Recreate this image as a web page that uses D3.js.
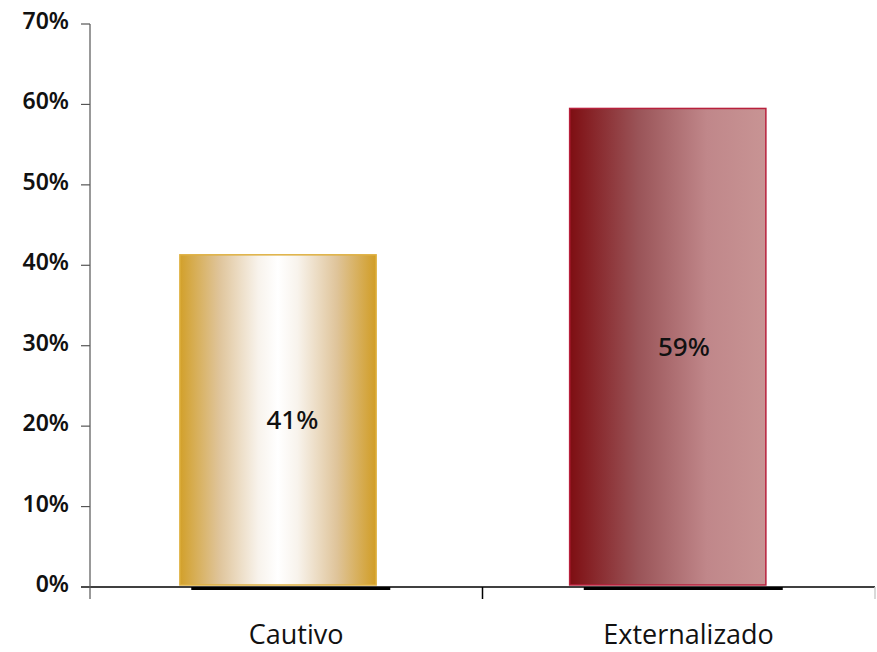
<!DOCTYPE html>
<html>
<head>
<meta charset="utf-8">
<script src="https://cdn.jsdelivr.net/npm/d3@7"></script>
<style>
html,body{margin:0;padding:0;background:#fff;}
svg{display:block;}
</style>
</head>
<body>
<svg id="chart" width="877" height="652"></svg>
<script>
const categories = ["Cautivo", "Externalizado"];
const values = [41.3, 59.5];
const valueLabels = ["41%", "59%"];
const yTicks = [0, 10, 20, 30, 40, 50, 60, 70];

const svg = d3.select("#chart");
const x = d3.scaleBand().domain(categories).range([90, 875]).padding(0);
const y = d3.scaleLinear().domain([0, 70]).range([587, 24]);
const bw = x.bandwidth();

const defs = svg.append("defs");
const g1 = defs.append("linearGradient").attr("id", "gCautivo").attr("x1", "0").attr("x2", "1").attr("y1", "0").attr("y2", "0");
[[0, "#d2a02a"], [0.2, "#dfc49a"], [0.4, "#f8f3ec"], [0.5, "#ffffff"], [0.6, "#f8f3ec"], [0.8, "#dfc49a"], [1, "#d19d25"]]
  .forEach(([o, c]) => g1.append("stop").attr("offset", o).attr("stop-color", c));
const g2 = defs.append("linearGradient").attr("id", "gExt").attr("x1", "0").attr("x2", "1").attr("y1", "0").attr("y2", "0");
[[0, "#7e0e12"], [0.35, "#9a5458"], [0.7, "#c0878a"], [1, "#c89494"]]
  .forEach(([o, c]) => g2.append("stop").attr("offset", o).attr("stop-color", c));
const fills = ["url(#gCautivo)", "url(#gExt)"];
const strokes = ["#deb040", "#b8203c"];
const barOffsets = [0.229, 0.222];

// shadow lines under bars
svg.selectAll("line.shadow").data(categories).enter().append("line")
  .attr("x1", d => x(d) + bw * 0.258).attr("x2", d => x(d) + bw * 0.765)
  .attr("y1", y(0) + 1.5).attr("y2", y(0) + 1.5)
  .attr("stroke", "#000").attr("stroke-width", 3);

// bars
svg.selectAll("rect.bar").data(categories).enter().append("rect")
  .attr("x", (d, i) => x(d) + bw * barOffsets[i])
  .attr("width", bw * 0.5)
  .attr("y", (d, i) => y(values[i]))
  .attr("height", (d, i) => y(0) - 2 - y(values[i]))
  .attr("fill", (d, i) => fills[i])
  .attr("stroke", (d, i) => strokes[i])
  .attr("stroke-width", 1.5);

// x axis line
svg.append("line").attr("x1", 81).attr("x2", 875).attr("y1", y(0)).attr("y2", y(0))
  .attr("stroke", "#000").attr("stroke-width", 1.5);
// category boundary ticks
svg.selectAll("line.ct").data(categories).enter().append("line")
  .attr("x1", d => x(d) + bw).attr("x2", d => x(d) + bw)
  .attr("y1", y(0)).attr("y2", y(0) + 12)
  .attr("stroke", (d, i) => i === categories.length - 1 ? "#ccc" : "#000").attr("stroke-width", 1.5);

// y axis
svg.append("line").attr("x1", 90).attr("x2", 90).attr("y1", y(70)).attr("y2", y(0) + 12)
  .attr("stroke", "#555").attr("stroke-width", 1.2);
svg.selectAll("line.yt").data(yTicks).enter().append("line")
  .attr("x1", 81).attr("x2", 90).attr("y1", d => y(d)).attr("y2", d => y(d))
  .attr("stroke", "#555").attr("stroke-width", 1.2);
svg.selectAll("text.yl").data(yTicks).enter().append("text")
  .attr("x", 69).attr("y", d => y(d) + 5)
  .attr("text-anchor", "end")
  .attr("font-family", "Noto Sans, sans-serif")
  .attr("font-weight", 600)
  .attr("font-size", 23)
  .attr("fill", "#111")
  .text(d => d + "%");

// value labels
const labelOffsets = [14, 13];
svg.selectAll("text.vl").data(categories).enter().append("text")
  .attr("x", (d, i) => x(d) + bw * 0.48 + labelOffsets[i])
  .attr("y", (d, i) => y(values[i] / 2) + 8)
  .attr("text-anchor", "middle")
  .attr("font-family", "Noto Sans, sans-serif")
  .attr("font-weight", 500)
  .attr("font-size", 26)
  .attr("fill", "#111")
  .text((d, i) => valueLabels[i]);

// category labels
svg.selectAll("text.cl").data(categories).enter().append("text")
  .attr("x", d => x(d) + bw * 0.525)
  .attr("y", 644)
  .attr("text-anchor", "middle")
  .attr("font-family", "Open Sans, sans-serif")
  .attr("font-size", 27)
  .attr("fill", "#111")
  .text(d => d);
</script>
</body>
</html>
